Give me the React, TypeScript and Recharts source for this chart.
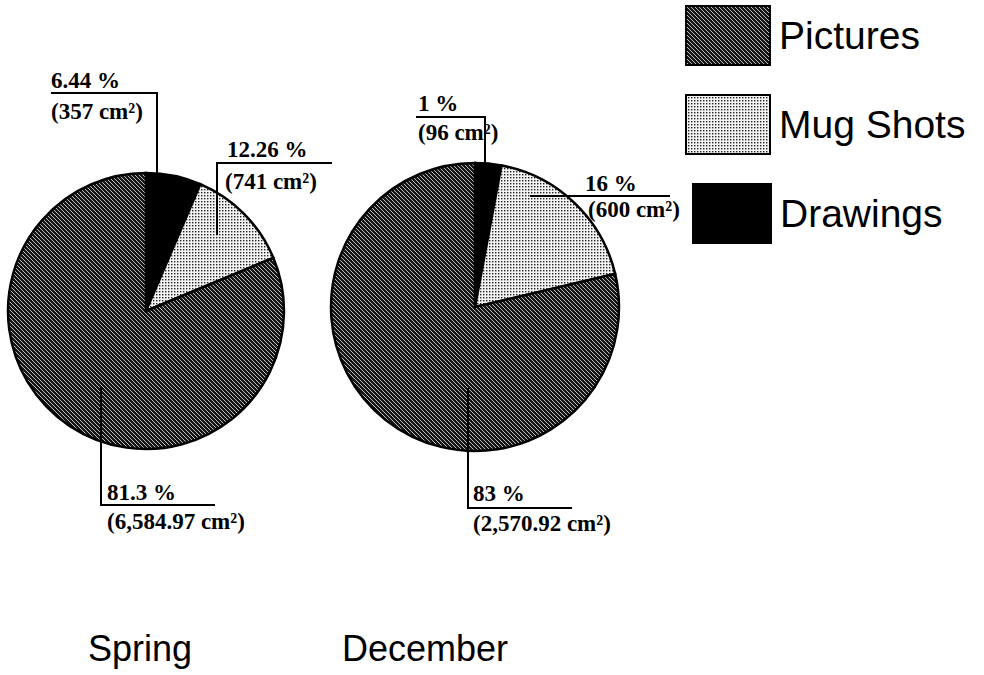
import { PieChart, Pie, Cell } from 'recharts';

// slice order: clockwise from 12 o'clock
const categories = ['Drawings', 'Mug Shots', 'Pictures'];
const legendOrder = ['Pictures', 'Mug Shots', 'Drawings'];

const springValues = [6.44, 12.26, 81.3];
const springPct = ['6.44 %', '12.26 %', '81.3 %'];
const springArea = ['(357 cm²)', '(741 cm²)', '(6,584.97 cm²)'];

const decemberValues = [96, 600, 2570.92];
const decemberPct = ['1 %', '16 %', '83 %'];
const decemberArea = ['(96 cm²)', '(600 cm²)', '(2,570.92 cm²)'];

const titles = ['Spring', 'December'];

const FILLS: Record<string, string> = {
  Pictures: 'url(#pat-pictures)',
  'Mug Shots': 'url(#pat-mug)',
  Drawings: '#000',
};

const SERIF = '"Liberation Serif", "Times New Roman", serif';
const SANS = '"Liberation Sans", Arial, Helvetica, sans-serif';

// leader line + text placement, relative to each pie's centre
type Callout = { path: [number, number][]; tx: number[]; ty: number[] };

const springCallouts: Callout[] = [
  { path: [[11, -136], [11, -218], [-95, -218]], tx: [-95, -95], ty: [-223, -192] },
  { path: [[71, -76], [71, -148], [186, -148]], tx: [81, 79], ty: [-154, -122] },
  { path: [[-45, 76], [-45, 194], [69, 194]], tx: [-39, -39], ty: [189, 218] },
];

const decemberCallouts: Callout[] = [
  { path: [[10, -142], [10, -190], [-59, -190]], tx: [-57, -57], ty: [-196, -167] },
  { path: [[55, -111], [195, -111]], tx: [110, 113], ty: [-116, -90] },
  { path: [[-7, 81], [-7, 201], [97, 201]], tx: [-2, -2], ty: [194, 224] },
];

const makeData = (values: number[]) =>
  categories.map((name, i) => ({ name, value: values[i] }));

function makeLabel(pct: string[], area: string[], callouts: Callout[], cx0: number, cy0: number) {
  return (props: any) => {
    const i = props.index;
    const c = callouts[i];
    if (!c) return null;
    const cx = typeof props.cx === 'number' ? props.cx : cx0;
    const cy = typeof props.cy === 'number' ? props.cy : cy0;
    return (
      <g>
        <polyline
          points={c.path.map(([x, y]) => `${cx + x},${cy + y}`).join(' ')}
          fill="none"
          stroke="#000"
          strokeWidth={2}
        />
        <text x={cx + c.tx[0]} y={cy + c.ty[0]} fontFamily={SERIF} fontSize={23} fontWeight="bold" fill="#000">
          {pct[i]}
        </text>
        <text x={cx + c.tx[1]} y={cy + c.ty[1]} fontFamily={SERIF} fontSize={23} fontWeight="bold" fill="#000">
          {area[i]}
        </text>
      </g>
    );
  };
}

const SPRING = { cx: 146, cy: 311, r: 138 };
const DECEMBER = { cx: 475, cy: 307, r: 144 };

export default function App() {
  const springData = makeData(springValues);
  const decemberData = makeData(decemberValues);

  return (
    <div style={{ position: 'absolute', left: 0, top: 0, width: 984, height: 675, background: '#fff' }}>
      <PieChart width={984} height={675} margin={{ top: 0, right: 0, bottom: 0, left: 0 }}>
        <defs>
          <pattern id="pat-pictures" patternUnits="userSpaceOnUse" width={4} height={4}>
            <rect width={4} height={4} fill="#151515" />
            <path d="M-1,-1 L5,5 M-1,3 L1,5 M3,-1 L5,1" stroke="#d0d0d0" strokeWidth={0.9} />
          </pattern>
          <pattern id="pat-mug" patternUnits="userSpaceOnUse" width={3} height={3}>
            <rect width={3} height={3} fill="#f4f4f4" />
            <rect width={1.4} height={1.4} fill="#222" />
          </pattern>
        </defs>
        <Pie
          data={springData}
          dataKey="value"
          nameKey="name"
          cx={SPRING.cx}
          cy={SPRING.cy}
          outerRadius={SPRING.r}
          startAngle={90}
          endAngle={-270}
          stroke="#000"
          strokeWidth={2.5}
          label={makeLabel(springPct, springArea, springCallouts, SPRING.cx, SPRING.cy)}
          labelLine={false}
          isAnimationActive={false}
        >
          {springData.map((d) => (
            <Cell key={d.name} fill={FILLS[d.name]} />
          ))}
        </Pie>
        <Pie
          data={decemberData}
          dataKey="value"
          nameKey="name"
          cx={DECEMBER.cx}
          cy={DECEMBER.cy}
          outerRadius={DECEMBER.r}
          startAngle={90}
          endAngle={-270}
          stroke="#000"
          strokeWidth={2.5}
          label={makeLabel(decemberPct, decemberArea, decemberCallouts, DECEMBER.cx, DECEMBER.cy)}
          labelLine={false}
          isAnimationActive={false}
        >
          {decemberData.map((d) => (
            <Cell key={d.name} fill={FILLS[d.name]} />
          ))}
        </Pie>
      </PieChart>

      {/* legend */}
      {legendOrder.map((name, i) => (
        <div
          key={name}
          style={{ position: 'absolute', left: i === 2 ? 692 : 685, top: 5 + i * 89, height: 61, display: 'flex', alignItems: 'center' }}
        >
          <svg width={i === 2 ? 80 : 86} height={61} style={{ display: 'block' }}>
            <rect x={1} y={1} width={i === 2 ? 78 : 84} height={59} fill={FILLS[name]} stroke="#000" strokeWidth={2} />
          </svg>
          <span style={{ fontFamily: SANS, fontSize: 39, marginLeft: 8, lineHeight: '61px', color: '#000' }}>{name}</span>
        </div>
      ))}

      {/* pie titles */}
      <div style={{ position: 'absolute', left: 88, top: 628, fontFamily: SANS, fontSize: 36, color: '#000' }}>{titles[0]}</div>
      <div style={{ position: 'absolute', left: 342, top: 628, fontFamily: SANS, fontSize: 36, color: '#000' }}>{titles[1]}</div>
    </div>
  );
}
